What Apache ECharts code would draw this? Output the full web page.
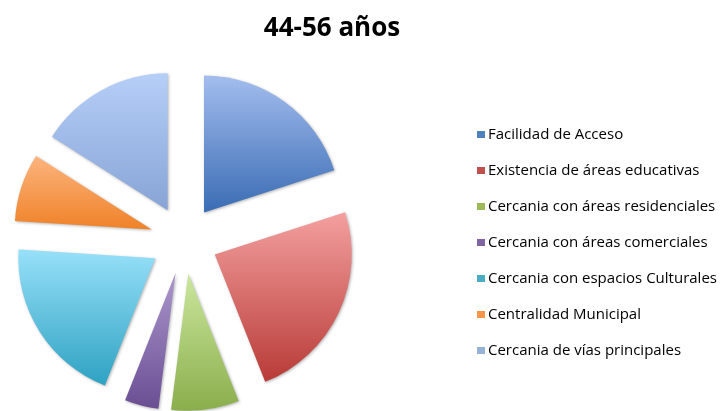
<!DOCTYPE html>
<html>
<head>
<meta charset="utf-8">
<script src="https://cdn.jsdelivr.net/npm/echarts@6/dist/echarts.min.js"></script>
<style>
  html, body { margin: 0; padding: 0; background: #ffffff; }
  #chart { width: 725px; height: 411px; }
</style>
</head>
<body>
<div id="chart"></div>
<script>
// datos de la encuesta (grupo 44-56 años)
const categories = [
    'Facilidad de Acceso',
    'Existencia de áreas educativas',
    'Cercania con áreas residenciales',
    'Cercania con áreas comerciales',
    'Cercania con espacios Culturales',
    'Centralidad Municipal',
    'Cercania de vías principales'
];
const values = [5, 6, 2, 1, 5, 2, 4];

// colores: claro arriba, oscuro abajo, leyenda
const topColors = ['#a3bdee', '#f3a09f', '#cbe79d', '#ac97cc', '#97e0f9', '#fcb47e', '#b6cff8'];
const bottomColors = ['#3a6cb4', '#b83b37', '#8bae4c', '#6a4e93', '#2ea2c2', '#ef8228', '#87a4d6'];
const legendColors = ['#4f81bd', '#c0504d', '#9bbb59', '#8064a2', '#4bacc6', '#f79646', '#95b3d7'];

const chart = echarts.init(document.getElementById('chart'));

const pieData = categories.map((name, i) => ({
    name: name,
    value: values[i],
    selected: true,
    itemStyle: {
        color: {
            type: 'linear', x: 0, y: 0, x2: 0, y2: 1,
            colorStops: [
                { offset: 0, color: topColors[i] },
                { offset: 1, color: bottomColors[i] }
            ]
        }
    }
}));

chart.setOption({
    animation: false,
    title: {
        text: '44-56 años',
        left: 327,
        textAlign: 'center',
        top: 11,
        textStyle: { fontFamily: 'Open Sans', fontWeight: 'bold', fontSize: 26, color: '#000' }
    },
    legend: {
        orient: 'vertical',
        left: 472,
        top: 122,
        itemWidth: 8,
        itemHeight: 7,
        itemGap: 21,
        icon: 'rect',
        selectedMode: false,
        textStyle: { fontFamily: 'Open Sans', fontSize: 15, color: '#000', padding: [0, 0, 0, -2] },
        data: categories.map((name, i) => ({ name: name, itemStyle: { color: legendColors[i] } }))
    },
    series: [{
        type: 'pie',
        center: [184, 240],
        radius: 137,
        startAngle: 90,
        clockwise: true,
        selectedMode: 'multiple',
        selectedOffset: 34,
        label: { show: false },
        labelLine: { show: false },
        emphasis: { disabled: true },
        itemStyle: {
            shadowBlur: 3,
            shadowOffsetX: 1,
            shadowOffsetY: 1,
            shadowColor: 'rgba(0,0,0,0.3)'
        },
        data: pieData
    }]
});
</script>
</body>
</html>
